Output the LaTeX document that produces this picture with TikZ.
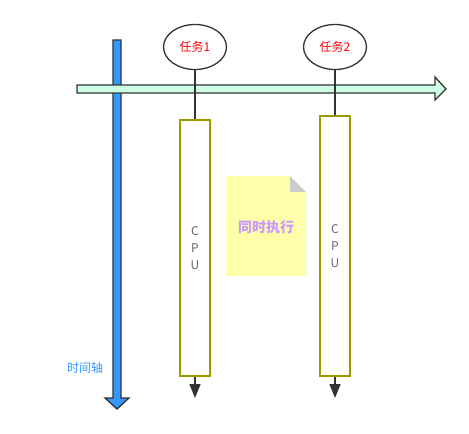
\documentclass[tikz,border=0pt]{standalone}
\usepackage{fontspec}
\setmainfont{Noto Sans CJK SC}
\usetikzlibrary{shapes.geometric,arrows.meta}
\definecolor{axisblue}{HTML}{3399FF}
\definecolor{mint}{HTML}{CCFFE6}
\definecolor{olive}{HTML}{999900}
\definecolor{notey}{HTML}{FFFFAA}
\definecolor{darkline}{HTML}{333333}
\definecolor{lilac}{HTML}{CC99FF}
\tikzset{
	task/.style={ellipse, draw=darkline, line width=1.3pt, minimum width=63pt, minimum height=45pt, inner sep=0pt, text=red, font=\fontsize{12}{14}\selectfont},
	cpubox/.style={draw=olive, line width=1.5pt, minimum width=30pt, inner sep=0pt, text=black!60, align=center, font=\fontsize{12}{17}\selectfont},
	flow/.style={darkline, line width=1.3pt, -{Triangle[width=11pt,length=14pt]}}
}
\begin{document}
\begin{tikzpicture}[x=1pt, y=-1pt]
	\useasboundingbox (0,0) rectangle (469,434);
	
	% --- trục thời gian (dọc) ---
	\draw[darkline, line width=1.3pt, fill=axisblue] (113,40) -- (121,40) -- (121,398) -- (129,398)
	-- (117,409) -- (105,398) -- (113,398) -- cycle;
	\node[text=axisblue, font=\fontsize{12}{14}\selectfont] (timelabel) at (85,368) {时间轴};
	
	% --- mũi tên ngang ---
	\draw[darkline, line width=1.3pt, fill=mint] (77,85) -- (435,85) -- (435,77) -- (446,89)
	-- (435,100) -- (435,93) -- (77,93) -- cycle;
	
	% --- các nhiệm vụ ---
	\node[task] (task1) at (195,47) {任务1};
	\node[task] (task2) at (335,47) {任务2};
	
	% --- CPU ---
	\node[cpubox, minimum height=256pt] (cpu1) at (195,248) {C\\P\\U};
	\node[cpubox, minimum height=260pt] (cpu2) at (335,246) {C\\P\\U};
	\coordinate (end1) at (195,398);
	\coordinate (end2) at (335,398);
	
	\draw[darkline, line width=1.3pt] (task1.south) -- (cpu1.north);
	\draw[darkline, line width=1.3pt] (task2.south) -- (cpu2.north);
	\draw[flow] (cpu1.south) -- (end1);
	\draw[flow] (cpu2.south) -- (end2);
	
	% --- ghi chú ---
	\fill[notey] (226,176) -- (290,176) -- (306,192) -- (306,276) -- (226,276) -- cycle;
	\fill[black!20] (290,176) -- (306,192) -- (290,192) -- cycle;
	\node[text=lilac, font=\bfseries\fontsize{14}{16}\selectfont] (note) at (266,227) {同时执行};
	
\end{tikzpicture}
\end{document}
